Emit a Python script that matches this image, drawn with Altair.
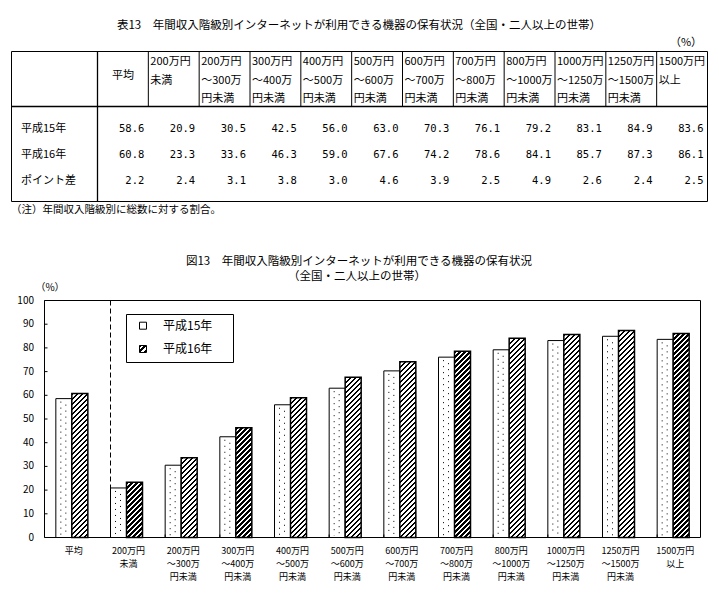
import altair as alt
import pandas as pd

# ---------------- data ----------------
categories = ["平均", "200万円未満", "200万円～300万円未満", "300万円～400万円未満",
              "400万円～500万円未満", "500万円～600万円未満", "600万円～700万円未満",
              "700万円～800万円未満", "800万円～1000万円未満", "1000万円～1250万円未満",
              "1250万円～1500万円未満", "1500万円以上"]
header_lines = [["平均"], ["200万円", "未満"], ["200万円", "～300万", "円未満"],
                ["300万円", "～400万", "円未満"], ["400万円", "～500万", "円未満"],
                ["500万円", "～600万", "円未満"], ["600万円", "～700万", "円未満"],
                ["700万円", "～800万", "円未満"], ["800万円", "～1000万", "円未満"],
                ["1000万円", "～1250万", "円未満"], ["1250万円", "～1500万", "円未満"],
                ["1500万円", "以上"]]
series = ["平成15年", "平成16年"]
values_h15 = [58.6, 20.9, 30.5, 42.5, 56.0, 63.0, 70.3, 76.1, 79.2, 83.1, 84.9, 83.6]
values_h16 = [60.8, 23.3, 33.6, 46.3, 59.0, 67.6, 74.2, 78.6, 84.1, 85.7, 87.3, 86.1]
values_diff = [2.2, 2.4, 3.1, 3.8, 3.0, 4.6, 3.9, 2.5, 4.9, 2.6, 2.4, 2.5]
row_labels = ["平成15年", "平成16年", "ポイント差"]
y_ticks = [0, 10, 20, 30, 40, 50, 60, 70, 80, 90, 100]
table_title = "表13　年間収入階級別インターネットが利用できる機器の保有状況（全国・二人以上の世帯）"
table_unit = "（%）"
table_note = "（注）年間収入階級別に総数に対する割合。"
chart_title = ["図13　年間収入階級別インターネットが利用できる機器の保有状況", "（全国・二人以上の世帯）"]
chart_unit = "（%）"

# ---------------- layout ----------------
W, H = 719, 598
FONT = "Noto Sans CJK JP"
NUMFONT = "DejaVu Sans Mono"
T_LEFT, T_RIGHT, T_TOP, T_BOTTOM = 11.5, 707.5, 51.5, 201.5
T_HEAD, T_LABEL = 106.5, 97.5
P_LEFT, P_RIGHT, P_TOP, P_BOTTOM = 44.5, 700.5, 300.5, 537.5
BAR_W = 16
STEP = (P_RIGHT - P_LEFT) / len(categories)
PI = 1 - 2 * BAR_W / STEP

def xband(shift=0.0, band_pos=None):
    kw = {}
    if band_pos is not None:
        kw["bandPosition"] = band_pos
    return alt.X("cat:N", axis=None,
                 scale=alt.Scale(type="band", domain=categories,
                                 range=[P_LEFT + shift, P_RIGHT + shift],
                                 paddingInner=PI, paddingOuter=PI / 2), **kw)

yscale = alt.Scale(domain=[0, 100], range=[P_BOTTOM, P_TOP])

def yv(field="v"):
    return alt.Y(f"{field}:Q", scale=yscale, axis=None)

def hatch(w, h, period=5.0, frac=0.5):
    L = w + h
    a = L * w / (w * w + h * h)
    b = L * h / (w * w + h * h)
    stops = []
    k = 0
    while k * period < L:
        s = k * period / L
        e = min((k * period + frac * period) / L, 1.0)
        n = min((k + 1) * period / L, 1.0)
        stops += [(s, "#000000"), (e, "#000000"), (e, "#ffffff"), (n, "#ffffff")]
        k += 1
    return alt.LinearGradient(
        gradient="linear",
        stops=[alt.GradientStop(offset=round(o, 5), color=c) for o, c in stops],
        x1=0, y1=0, x2=a, y2=b)

def txt(s):
    return pd.DataFrame({"t": [s]})

layers = []

# ---------------- table ----------------
def text_layer(s, x, y, size=12, align="center", font=FONT):
    return alt.Chart(txt(s)).mark_text(font=font, fontSize=size, align=align,
                                        baseline="middle", color="black").encode(
        text="t:N", x=alt.value(x), y=alt.value(y))

layers.append(text_layer(table_title, 359, 26, 11.5))
layers.append(text_layer(table_unit, 686, 43, 11))
layers.append(text_layer(table_note, 11, 210, 10.5, align="left"))

colscale = alt.Scale(domain=[0, 12], range=[T_LABEL, T_RIGHT])
# frame
layers.append(alt.Chart(txt("")).mark_rect(fillOpacity=0, stroke="black", strokeWidth=1).encode(
    x=alt.value(T_LEFT), x2=alt.value(T_RIGHT), y=alt.value(T_TOP), y2=alt.value(T_BOTTOM)))
layers.append(alt.Chart(txt("")).mark_rule(color="black", strokeWidth=1.3).encode(
    x=alt.value(T_LEFT), x2=alt.value(T_RIGHT), y=alt.value(T_HEAD)))
layers.append(alt.Chart(txt("")).mark_rule(color="black", strokeWidth=1.3).encode(
    x=alt.value(T_LABEL), y=alt.value(T_TOP), y2=alt.value(T_BOTTOM)))
sep_df = pd.DataFrame({"c": list(range(1, 12))})
layers.append(alt.Chart(sep_df).mark_rule(color="black", strokeWidth=1).encode(
    x=alt.X("c:Q", scale=colscale, axis=None), y=alt.value(T_TOP), y2=alt.value(T_HEAD)))

# header texts
hdr_rows = []
for j, lines in enumerate(header_lines):
    if j == 0:
        continue
    for li, s in enumerate(lines):
        hdr_rows.append({"c": j, "line": li, "t": s})
hdr_df = pd.DataFrame(hdr_rows)
layers.append(alt.Chart(hdr_df).mark_text(font=FONT, fontSize=11, align="left", baseline="middle",
                                          dx=2, color="black").encode(
    x=alt.X("c:Q", scale=colscale, axis=None),
    y=alt.Y("line:Q", scale=alt.Scale(domain=[0, 2], range=[62, 99]), axis=None),
    text="t:N"))
layers.append(alt.Chart(pd.DataFrame({"c": [0.5], "t": header_lines[0]})).mark_text(
    font=FONT, fontSize=11, align="center", baseline="middle", color="black").encode(
    x=alt.X("c:Q", scale=colscale, axis=None), y=alt.value(76), text="t:N"))

# row labels and values
rowscale = alt.Scale(domain=[0, 2], range=[129, 181])
layers.append(alt.Chart(pd.DataFrame({"r": [0, 1, 2], "t": row_labels})).mark_text(
    font=FONT, fontSize=11, align="left", baseline="middle", color="black").encode(
    x=alt.value(21), y=alt.Y("r:Q", scale=rowscale, axis=None), text="t:N"))
val_rows = []
for r, arr in enumerate([values_h15, values_h16, values_diff]):
    for j, v in enumerate(arr):
        val_rows.append({"c": j + 1, "r": r, "t": f"{v:.1f}"})
layers.append(alt.Chart(pd.DataFrame(val_rows)).mark_text(
    font=NUMFONT, fontSize=10.5, align="right", baseline="middle", dx=-4, color="black").encode(
    x=alt.X("c:Q", scale=colscale, axis=None), y=alt.Y("r:Q", scale=rowscale, axis=None), text="t:N"))

# ---------------- chart ----------------
layers.append(text_layer(chart_title[0], 359, 262, 11.5))
layers.append(text_layer(chart_title[1], 357, 277, 11.5))
layers.append(text_layer(chart_unit, 50, 288, 10))

bar_df = pd.DataFrame({"cat": categories, "v": values_h15, "zero": [0] * len(categories)})
# 平成15年 bars
layers.append(alt.Chart(bar_df).mark_bar(width=BAR_W, fill="white", stroke="black", strokeWidth=1).encode(
    x=xband(-BAR_W / 2), y=yv("v"), y2=alt.Y2("zero:Q")))
# dots inside
for shift, off in [(-11, 0), (-6, 3)]:
    layers.append(alt.Chart(bar_df).mark_rule(color="black", strokeWidth=1, strokeDash=[1, 5],
                                              strokeDashOffset=off, yOffset=3, y2Offset=-2).encode(
        x=xband(shift, 0.5), y=yv("v"), y2=alt.Y2("zero:Q")))
# 平成16年 bars (one layer per bar to fit the hatch to its size)
px_per_unit = (P_BOTTOM - P_TOP) / 100.0
for c, v in zip(categories, values_h16):
    d = pd.DataFrame({"cat": [c], "v": [v], "zero": [0]})
    layers.append(alt.Chart(d).mark_bar(width=BAR_W, fill=hatch(BAR_W, v * px_per_unit),
                                        stroke="black", strokeWidth=1.5).encode(
        x=xband(BAR_W / 2), y=yv("v"), y2=alt.Y2("zero:Q")))

# dashed separator after 平均
layers.append(alt.Chart(pd.DataFrame({"cat": [categories[1]]})).mark_rule(
    color="black", strokeWidth=1, strokeDash=[5, 3]).encode(
    x=xband(0, 0), y=alt.value(P_TOP), y2=alt.value(P_BOTTOM)))
# small category ticks
layers.append(alt.Chart(pd.DataFrame({"cat": categories[2:]})).mark_rule(color="black", strokeWidth=1).encode(
    x=xband(0, 0), y=alt.value(P_BOTTOM), y2=alt.value(P_BOTTOM - 3)))
# y ticks and labels
tick_df = pd.DataFrame({"v": y_ticks, "t": [str(t) for t in y_ticks]})
layers.append(alt.Chart(tick_df).mark_rule(color="black", strokeWidth=1).encode(
    x=alt.value(P_LEFT), x2=alt.value(P_LEFT + 3), y=yv("v")))
layers.append(alt.Chart(tick_df).mark_text(font=FONT, fontSize=10, align="right", baseline="middle",
                                           color="black").encode(
    x=alt.value(34), y=yv("v"), text="t:N"))
# plot frame
layers.append(alt.Chart(txt("")).mark_rect(fillOpacity=0, stroke="black", strokeWidth=1).encode(
    x=alt.value(P_LEFT), x2=alt.value(P_RIGHT), y=alt.value(P_TOP), y2=alt.value(P_BOTTOM)))
# x labels
xl_df = pd.DataFrame({"cat": categories, "t": ["\n".join(l) for l in header_lines]})
layers.append(alt.Chart(xl_df).mark_text(font=FONT, fontSize=9, align="center", baseline="top",
                                         lineBreak="\n", lineHeight=13, dx=2, color="black").encode(
    x=xband(0, 0.5), y=alt.value(547), text="t:N"))

# legend
LG_L, LG_R, LG_T, LG_B = 126.5, 233.5, 314.5, 362.5
layers.append(alt.Chart(txt("")).mark_rect(fill="white", stroke="black", strokeWidth=1).encode(
    x=alt.value(LG_L), x2=alt.value(LG_R), y=alt.value(LG_T), y2=alt.value(LG_B)))
leg_y = [325.7, 349]
for i, s in enumerate(series):
    fill = "white" if i == 0 else hatch(7, 7, period=5, frac=0.5)
    layers.append(alt.Chart(txt(s)).mark_rect(fill=fill, stroke="black", strokeWidth=1).encode(
        x=alt.value(139.5), x2=alt.value(146.5), y=alt.value(leg_y[i] - 3.5), y2=alt.value(leg_y[i] + 3.5)))
    layers.append(alt.Chart(txt(s)).mark_text(font=FONT, fontSize=12, align="left", baseline="middle",
                                              color="black").encode(
        text="t:N", x=alt.value(163), y=alt.value(leg_y[i])))

chart = alt.layer(*layers).properties(
    width=W, height=H, autosize=alt.AutoSizeParams(type="none"), padding=0,
    background="white"
).resolve_scale(x="independent", y="independent").configure_view(stroke=None)

chart.save("out.html", embed_options={"renderer": "svg", "actions": False})
